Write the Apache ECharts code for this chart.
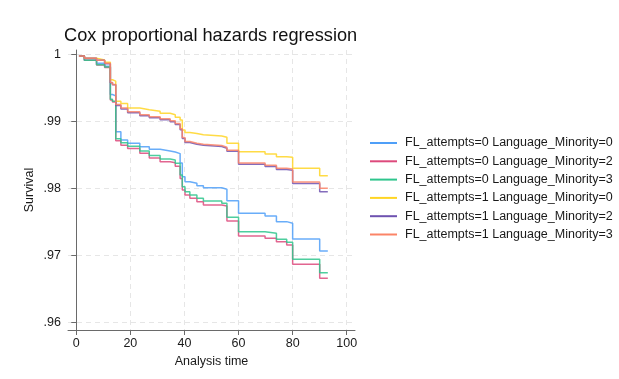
<!DOCTYPE html>
<html>
<head>
<meta charset="utf-8">
<script src="https://cdn.jsdelivr.net/npm/echarts@6.0.0/dist/echarts.min.js"></script>
<style>
  html, body { margin: 0; padding: 0; background: #fff; }
  #chart { width: 619px; height: 379px; }
</style>
</head>
<body>
<div id="chart"></div>
<script>
// analysis time at which each step starts (same for all groups)
const times = [1, 3, 7.5, 10.5, 12.6, 13.4, 14.6, 16.5, 19, 23.5, 27, 31, 34.7, 36.6, 38.4, 39.2,
  40.2, 42, 44.6, 47, 53.8, 55.7, 60, 69.8, 74, 77.8, 80, 90, 93];

const fl0lm0 = [0.99975, 0.9991, 0.99865, 0.9982, 0.9940, 0.9938, 0.98847, 0.98723, 0.98674, 0.98623,
  0.98584, 0.98560, 0.98545, 0.98520, 0.98380, 0.98176, 0.98101, 0.98078, 0.98040, 0.98010, 0.97990,
  0.97818, 0.97630, 0.97590, 0.97506, 0.97482, 0.97247, 0.97068, 0.97068];
const fl0lm2 = [0.99975, 0.9991, 0.9984, 0.99805, 0.9932, 0.9929, 0.9871, 0.98645, 0.98595, 0.98525,
  0.98455, 0.98400, 0.98385, 0.98330, 0.98150, 0.97978, 0.97903, 0.97854, 0.97803, 0.97754, 0.97739,
  0.97516, 0.97292, 0.97258, 0.97208, 0.97158, 0.96870, 0.96662, 0.96662];
const fl0lm3 = [0.99975, 0.9991, 0.99845, 0.9981, 0.9933, 0.9930, 0.9874, 0.98680, 0.98630, 0.98560,
  0.98490, 0.98440, 0.98425, 0.98376, 0.98201, 0.98027, 0.97953, 0.97903, 0.97854, 0.97814, 0.97780,
  0.97570, 0.97356, 0.97332, 0.97243, 0.97198, 0.96945, 0.96746, 0.96746];
const fl1lm0 = [0.99975, 0.9994, 0.99915, 0.9988, 0.9962, 0.9960, 0.9930, 0.99265, 0.9920, 0.99175,
  0.9915, 0.9912, 0.9910, 0.9906, 0.9902, 0.9887, 0.98835, 0.9882, 0.9880, 0.98782, 0.98765,
  0.98674, 0.98548, 0.98514, 0.98474, 0.98465, 0.98301, 0.9819, 0.9819];
const fl1lm2 = [0.99975, 0.9994, 0.9991, 0.9986, 0.99575, 0.99545, 0.99235, 0.99185, 0.9913, 0.99085,
  0.99055, 0.99025, 0.98995, 0.98955, 0.98875, 0.98745, 0.98685, 0.9866, 0.98645, 0.98625, 0.986,
  0.98555, 0.98362, 0.98327, 0.98282, 0.98272, 0.98075, 0.97953, 0.97953];
const fl1lm3 = [0.99975, 0.9994, 0.9991, 0.99865, 0.9958, 0.9955, 0.9925, 0.9920, 0.99145, 0.9910,
  0.9907, 0.9904, 0.9901, 0.9897, 0.9889, 0.9876, 0.9870, 0.98675, 0.9866, 0.9864, 0.98615,
  0.9857, 0.9838, 0.98345, 0.9830, 0.9829, 0.98095, 0.98003, 0.98003];

const groups = [
  'FL_attempts=0 Language_Minority=0',
  'FL_attempts=0 Language_Minority=2',
  'FL_attempts=0 Language_Minority=3',
  'FL_attempts=1 Language_Minority=0',
  'FL_attempts=1 Language_Minority=2',
  'FL_attempts=1 Language_Minority=3',
];
const curves = [fl0lm0, fl0lm2, fl0lm3, fl1lm0, fl1lm2, fl1lm3];
const colors = ['#4f9ff8', '#dd4a7c', '#2fc58d', '#ffd524', '#6e52b0', '#fb8467'];

const xTicks = [0, 20, 40, 60, 80, 100];
const yTicks = [0.96, 0.97, 0.98, 0.99, 1];

const font = '"Liberation Sans", Arial, Helvetica, sans-serif';
const chart = echarts.init(document.getElementById('chart'));

chart.setOption({
  animation: false,
  backgroundColor: '#fff',
  color: colors,
  textStyle: { fontFamily: font },
  title: {
    text: 'Cox proportional hazards regression',
    left: 59,
    top: 22,
    textStyle: { fontSize: 18.2, fontWeight: 'normal', color: '#111', fontFamily: font },
  },
  legend: {
    orient: 'vertical',
    left: 365,
    top: 131,
    itemWidth: 27,
    itemHeight: 2,
    itemGap: 4.3,
    icon: 'rect',
    textStyle: { fontSize: 12.5, color: '#1a1a1a', lineHeight: 14, padding: [0, 0, 0, 3], fontFamily: font },
    data: groups,
  },
  grid: { left: 68, right: 264, top: 50, bottom: 49 },
  xAxis: {
    type: 'value',
    min: -3.05,
    max: 103.05,
    name: 'Analysis time',
    nameLocation: 'middle',
    nameGap: 24,
    nameTextStyle: { fontSize: 12.5, color: '#1a1a1a' },
    axisLine: { lineStyle: { color: '#6a6a6a' } },
    axisTick: { length: 5, lineStyle: { color: '#6a6a6a' }, customValues: xTicks },
    axisLabel: { fontSize: 12.5, color: '#1a1a1a', margin: 7, customValues: xTicks },
    splitLine: { show: true, lineStyle: { color: '#e6e6e6', type: [5, 4] } },
  },
  yAxis: {
    type: 'value',
    min: 0.95891,
    max: 1.00064,
    name: 'Survival',
    nameLocation: 'middle',
    nameGap: 32,
    nameTextStyle: { fontSize: 12.5, color: '#1a1a1a' },
    axisLine: { show: true, lineStyle: { color: '#6a6a6a' } },
    axisTick: { show: true, length: 5, lineStyle: { color: '#6a6a6a' }, customValues: yTicks },
    axisLabel: {
      fontSize: 12.5,
      color: '#1a1a1a',
      margin: 7,
      customValues: yTicks,
      formatter: (v) => (v >= 1 ? '1' : String(+v.toFixed(2)).replace(/^0/, '')),
    },
    splitLine: { show: true, lineStyle: { color: '#e6e6e6', type: [5, 4] } },
  },
  series: groups.map((name, k) => ({
    name,
    type: 'line',
    step: 'end',
    showSymbol: false,
    lineStyle: { width: 1.5, opacity: 0.85 },
    data: times.map((t, i) => [t, curves[k][i]]),
  })),
});
</script>
</body>
</html>
